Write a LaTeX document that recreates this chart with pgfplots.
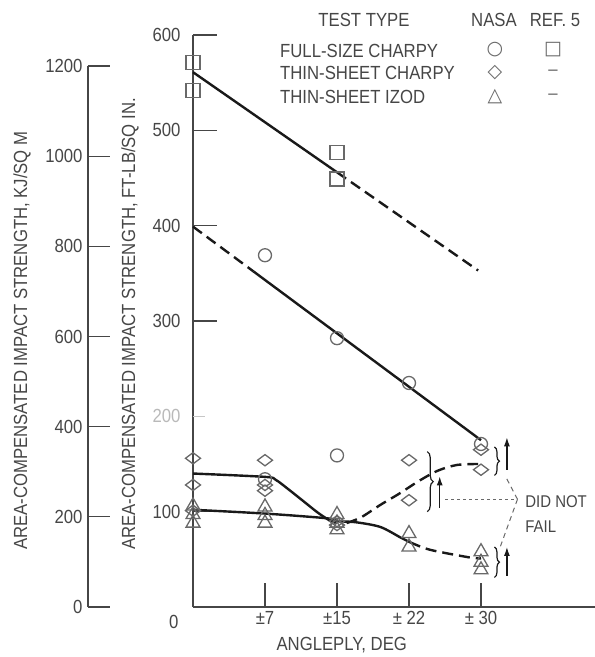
\documentclass[border=0pt]{standalone}
\usepackage{fontspec}
\setmainfont[FakeStretch=0.88]{Liberation Sans}
\newfontfamily\symfont{DejaVu Sans}
\usepackage{pgfplots}
\pgfplotsset{compat=1.18}
\usetikzlibrary{decorations.pathreplacing,arrows.meta}
\definecolor{txt}{RGB}{70,70,70}
\definecolor{mk}{RGB}{105,105,105}
\definecolor{ln}{RGB}{25,25,25}
\begin{document}
\begin{tikzpicture}[font=\fontsize{19}{21}\selectfont, text=txt]
\useasboundingbox (0,0) rectangle (595pt,657pt);
% secondary (SI) axis
\begin{axis}[at={(88pt,50pt)}, anchor=south west, scale only axis,
  width=1pt, height=541pt, xmin=0, xmax=1, ymin=0, ymax=1200,
  axis x line=none, axis y line=left,
  axis line style={-, line width=1.2pt, draw=txt},
  ytick={0,200,400,600,800,1000,1200}, tick align=inside,
  major tick length=22pt, tick style={line width=1.2pt, draw=txt},
  scaled y ticks=false,
  /pgf/number format/assume math mode=true,
  /pgf/number format/1000 sep={},
  yticklabel style={text=txt, font=\fontsize{19}{21}\selectfont, xshift=-2pt}]
\addplot[draw=none] coordinates {(0,0)};
\end{axis}
% main axis
\begin{axis}[at={(193pt,50pt)}, anchor=south west, scale only axis,
  width=402pt, height=572pt, xmin=0, xmax=41.875, ymin=0, ymax=600,
  axis x line=bottom, axis y line=left, clip=false,
  axis line style={-, line width=1.2pt, draw=txt},
  xtick={7.5,15,22.5,30}, xticklabels={±7,±15,± 22,± 30},
  ytick={100,300,400,500,600},
  extra y ticks={200},
  extra y tick style={major tick length=12pt, tick style={draw=gray!45, line width=0.8pt}, yticklabel style={text=gray!55}},
  tick align=inside, major tick length=24pt,
  tick style={line width=1.2pt, draw=txt},
  /pgf/number format/assume math mode=true,
  yticklabel style={text=txt, font=\fontsize{19}{21}\selectfont, xshift=-9pt},
  xticklabel style={text=txt, font=\fontsize{19}{21}\selectfont, yshift=-1pt},
  xlabel={ANGLEPLY, DEG},
  xlabel style={at={(axis description cs:0.37,0)}, anchor=center, yshift=-38pt, text=txt, font=\fontsize{19}{21}\selectfont}]
% --- markers ---
% REF. 5 full-size Charpy (squares)
\addplot[only marks, mark=square, mark size=7pt, mark options={draw=mk, line width=1.3pt, fill=none}]
  coordinates {(0,571) (0,542) (15,477) (15,449)};
% NASA full-size Charpy (circles)
\addplot[only marks, mark=o, mark size=6.5pt, mark options={draw=mk, line width=1.3pt}]
  coordinates {(7.5,369) (7.5,134) (15,282) (15,159) (22.5,235) (30,171)};
% NASA thin-sheet Charpy (diamonds)
\addplot[only marks, mark=diamond, mark size=7.5pt, mark options={rotate=90, draw=mk, line width=1.3pt, fill=none}]
  coordinates {(0,156) (0,128) (0,101) (7.5,154) (7.5,128) (7.5,122) (15,90) (15,86) (22.5,154) (22.5,112) (30,165) (30,144)};
% NASA thin-sheet Izod (triangles)
\addplot[only marks, mark=triangle, mark size=8pt, mark options={draw=mk, line width=1.3pt, fill=none}]
  coordinates {(0,106) (0,97) (0,88) (7.5,105) (7.5,96) (7.5,88) (15,97) (15,88) (15,81) (22.5,77) (22.5,63) (30,58) (30,47) (30,39)};
% --- fitted curves ---
\addplot[ln, line width=2.4pt] coordinates {(0,561) (15,456)};
\addplot[ln, line width=2.4pt, dash pattern=on 11pt off 6pt] coordinates {(15,456) (29.7,353)};
\addplot[ln, line width=2.4pt, dash pattern=on 11pt off 6pt] coordinates {(0,399) (6.3,352)};
\addplot[ln, line width=2.4pt] coordinates {(6.3,352) (30,175)};
\addplot[ln, line width=2.4pt, smooth, tension=0.5] coordinates {(0,140) (7.5,136.5) (8.6,133.5) (10,123) (11.5,111) (13,99) (14.2,91) (15,88)};
\addplot[ln, line width=2.4pt, smooth, tension=0.5, dash pattern=on 11pt off 6pt] coordinates {(16,88) (17.5,94) (19.5,107) (21.5,119) (23.5,132) (25.5,143) (27.5,149) (29.7,150)};
\addplot[ln, line width=2.4pt, smooth, tension=0.5] coordinates {(0,102) (7.5,98) (14,93) (15,90) (16.9,89) (19.5,84) (21.6,73) (22.6,68)};
\addplot[ln, line width=2.4pt, smooth, tension=0.5, dash pattern=on 11pt off 6pt] coordinates {(22.6,68) (24.7,60) (28.8,52) (30,51)};
% --- annotations ---
\draw[decorate, decoration={brace, amplitude=6pt}, line width=1.2pt, ln] (axis cs:24.4,163) -- (axis cs:24.4,100);
\draw[decorate, decoration={brace, amplitude=5pt}, line width=1.2pt, ln] (axis cs:31.4,168) -- (axis cs:31.4,138);
\draw[decorate, decoration={brace, amplitude=5pt}, line width=1.2pt, ln] (axis cs:31.4,63) -- (axis cs:31.4,31);
\draw[-{Latex[length=9pt,width=6pt]}, line width=1.3pt, ln] (axis cs:25.7,104) -- (axis cs:25.7,137);
\draw[-{Latex[length=9pt,width=6pt]}, line width=1.3pt, ln] (axis cs:32.7,144) -- (axis cs:32.7,178);
\draw[-{Latex[length=9pt,width=6pt]}, line width=1.3pt, ln] (axis cs:32.7,33) -- (axis cs:32.7,63);
\draw[dash pattern=on 3pt off 3pt, line width=1pt, mk] (axis cs:26.3,113) -- (axis cs:33.8,113);
\draw[dash pattern=on 5pt off 4pt, line width=1pt, mk] (axis cs:33.8,113) -- (axis cs:32.5,138);
\draw[dash pattern=on 5pt off 4pt, line width=1pt, mk] (axis cs:33.8,113) -- (axis cs:32.0,63);
\node[anchor=west, inner sep=0pt, text=txt, font=\fontsize{17}{19}\selectfont] at (axis cs:34.6,111) {DID NOT};
\node[anchor=west, inner sep=0pt, text=txt, font=\fontsize{17}{19}\selectfont] at (axis cs:34.6,84) {FAIL};
\node[anchor=center, text=txt] at (axis cs:-2,-16) {0};
\end{axis}
% axis titles
\node[rotate=90, anchor=west, inner sep=0pt, text=txt] at (22pt,107pt) {AREA-COMPENSATED IMPACT STRENGTH, KJ/SQ M};
\node[rotate=90, anchor=west, inner sep=0pt, text=txt] at (130pt,107pt) {AREA-COMPENSATED IMPACT STRENGTH, FT-LB/SQ IN.};
% legend
\node[anchor=center, inner sep=0pt] at (364pt,637pt) {TEST TYPE};
\node[anchor=center, inner sep=0pt] at (494pt,637pt) {NASA};
\node[anchor=center, inner sep=0pt] at (555pt,637pt) {REF. 5};
\node[anchor=west, inner sep=0pt] at (280pt,606pt) {FULL-SIZE CHARPY};
\node[anchor=west, inner sep=0pt] at (280pt,584pt) {THIN-SHEET CHARPY};
\node[anchor=west, inner sep=0pt] at (280pt,560pt) {THIN-SHEET IZOD};
\node[anchor=center, inner sep=0pt, text=mk] at (495pt,607pt) {\symfont\fontsize{19}{21}\selectfont ○};
\node[anchor=center, inner sep=0pt, text=mk] at (553pt,607pt) {\symfont\fontsize{19}{21}\selectfont □};
\node[anchor=center, inner sep=0pt, text=mk] at (495pt,584pt) {\symfont\fontsize{19}{21}\selectfont ◇};
\node[anchor=center, inner sep=0pt, text=mk] at (553pt,584pt) {–};
\node[anchor=center, inner sep=0pt, text=mk] at (495pt,560pt) {\symfont\fontsize{19}{21}\selectfont △};
\node[anchor=center, inner sep=0pt, text=mk] at (553pt,560pt) {–};
\end{tikzpicture}
\end{document}
